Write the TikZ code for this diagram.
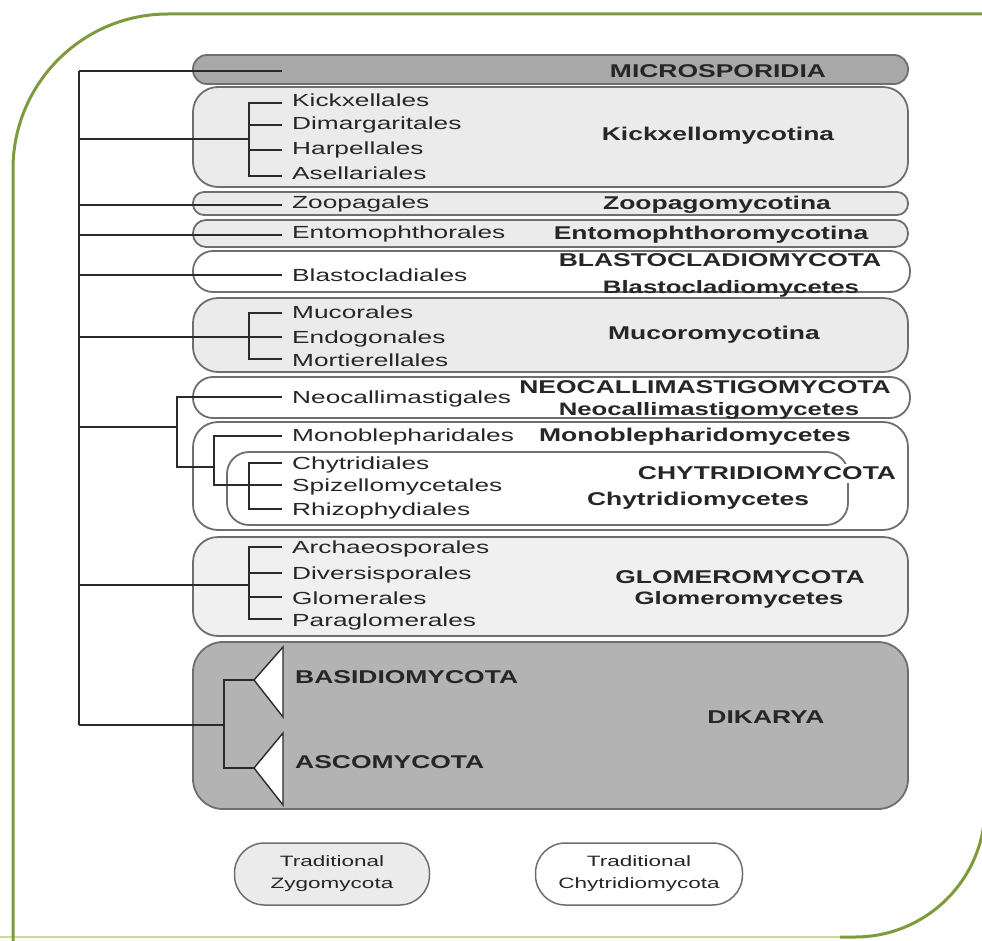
\documentclass[tikz,border=0pt]{standalone}
\usepackage{fontspec}
\setmainfont{Liberation Sans}
\newfontfamily\lblfont[FakeStretch=1.5]{Liberation Sans}
\newfontfamily\hdrfont[FakeStretch=1.43]{Liberation Sans}
\definecolor{framec}{HTML}{7D9A3C}
\definecolor{framelt}{HTML}{C9D9A0}
\definecolor{boxc}{HTML}{6E6E6E}
\definecolor{treec}{HTML}{2A2A2A}
\definecolor{txt}{HTML}{262626}
\definecolor{darkf}{HTML}{A8A8A8}
\definecolor{dikf}{HTML}{B3B3B3}
\definecolor{lightf}{HTML}{EBEBEB}
\definecolor{glomf}{HTML}{F0F0F0}
\tikzset{
  lbl/.style={anchor=west, inner xsep=0pt, inner ysep=0pt, text height=12pt, text depth=0pt,
    font=\lblfont\fontsize{17.5}{20}\selectfont, text=txt},
  hdr/.style={inner sep=0pt, text height=13pt, text depth=0pt,
    font=\hdrfont\bfseries\fontsize{18.5}{21}\selectfont, text=txt},
  subhdr/.style={hdr, font=\hdrfont\bfseries\fontsize{18}{21}\selectfont},
  tree/.style={line width=1.8pt, draw=treec},
  box/.style={draw=boxc, line width=1.8pt, inner sep=0pt},
  legend/.style={draw=boxc, line width=1.5pt, inner sep=0pt, align=center,
    font=\lblfont\fontsize{15}{22}\selectfont, text=txt},
  tri/.style={draw=treec, line width=1.4pt, fill=white},
}
\begin{document}
\begin{tikzpicture}[x=1pt,y=-1pt]
\useasboundingbox (0,0) rectangle (982,941);
% frame
\draw[framelt, line width=2pt] (0,937) -- (860,937);
\draw[framec, line width=3pt, rounded corners=155pt] (13,960) -- (13,14) -- (1000,14);
\draw[framec, line width=3pt, rounded corners=130pt] (985,650) -- (985,937) -- (840,937);

% boxes
\node[box, fill=darkf, minimum width=715pt, minimum height=29pt, rounded corners=14pt] (micro) at (550.5,69.5) {};
\node[box, fill=lightf, minimum width=715pt, minimum height=100pt, rounded corners=25pt] (kick) at (550.5,137) {};
\node[box, fill=lightf, minimum width=715pt, minimum height=23pt, rounded corners=11pt] (zoo) at (550.5,203.5) {};
\node[box, fill=lightf, minimum width=715pt, minimum height=27pt, rounded corners=13pt] (ento) at (550.5,233.5) {};
\node[box, fill=white, minimum width=717pt, minimum height=41pt, rounded corners=20pt] (blast) at (551.5,271.5) {};
\node[box, fill=lightf, minimum width=715pt, minimum height=74pt, rounded corners=25pt] (muco) at (550.5,335) {};
\node[box, fill=white, minimum width=717pt, minimum height=41pt, rounded corners=20pt] (neo) at (551.5,397.5) {};
\node[box, fill=white, minimum width=715pt, minimum height=108pt, rounded corners=25pt] (chyo) at (550.5,476) {};
\node[box, fill=white, minimum width=621pt, minimum height=73pt, rounded corners=22pt] (chyi) at (537.5,488.5) {};
\node[box, fill=glomf, minimum width=715pt, minimum height=99pt, rounded corners=25pt] (glom) at (550.5,586.5) {};
\node[box, fill=dikf, minimum width=715pt, minimum height=167pt, rounded corners=30pt] (dik) at (550.5,725.5) {};

% tree coordinates
\coordinate (rt) at (79,71);   \coordinate (rb) at (79,725);
\coordinate (r2) at (79,139);  \coordinate (r3) at (79,205);
\coordinate (r4) at (79,235);  \coordinate (r5) at (79,275);
\coordinate (r6) at (79,337);  \coordinate (r7) at (79,427);
\coordinate (r8) at (79,585);
\coordinate (mE) at (282,71);
\coordinate (kJ) at (249,139);
\coordinate (k1) at (249,103); \coordinate (k1e) at (282,103);
\coordinate (k2) at (249,125); \coordinate (k2e) at (282,125);
\coordinate (k3) at (249,150); \coordinate (k3e) at (282,150);
\coordinate (k4) at (249,176); \coordinate (k4e) at (282,176);
\coordinate (zE) at (282,205);
\coordinate (eE) at (282,235);
\coordinate (bE) at (282,275);
\coordinate (mJ) at (249,337);
\coordinate (m1) at (249,313); \coordinate (m1e) at (282,313);
\coordinate (m2e) at (282,337);
\coordinate (m3) at (249,359); \coordinate (m3e) at (282,359);
\coordinate (nJ) at (177,427);
\coordinate (n1) at (177,397); \coordinate (n1e) at (282,397);
\coordinate (n2) at (177,467); \coordinate (cJ) at (214,467);
\coordinate (c1) at (214,436); \coordinate (c1e) at (282,436);
\coordinate (c2) at (214,485); \coordinate (hJ) at (249,485);
\coordinate (h1) at (249,463); \coordinate (h1e) at (282,463);
\coordinate (h2e) at (282,485);
\coordinate (h3) at (249,509); \coordinate (h3e) at (282,509);
\coordinate (gJ) at (249,585);
\coordinate (g1) at (249,547); \coordinate (g1e) at (282,547);
\coordinate (g2) at (249,573); \coordinate (g2e) at (282,573);
\coordinate (g3) at (249,597); \coordinate (g3e) at (282,597);
\coordinate (g4) at (249,619); \coordinate (g4e) at (282,619);
\coordinate (dJ) at (224,725);
\coordinate (d1) at (224,680); \coordinate (d1e) at (254,680);
\coordinate (d2) at (224,768); \coordinate (d2e) at (254,768);

% triangles (collapsed clades)
\draw[tri] (d1e) -- (283,647) -- (283,717) -- cycle;
\draw[tri] (d2e) -- (283,733) -- (283,805) -- cycle;

% tree
\draw[tree] (rt) -- (rb);
\draw[tree] (rt) -- (mE);
\draw[tree] (r2) -- (kJ);
\draw[tree] (k1e) -- (k1) -- (k4) -- (k4e);
\draw[tree] (k2) -- (k2e);
\draw[tree] (k3) -- (k3e);
\draw[tree] (r3) -- (zE);
\draw[tree] (r4) -- (eE);
\draw[tree] (r5) -- (bE);
\draw[tree] (r6) -- (m2e);
\draw[tree] (m1e) -- (m1) -- (m3) -- (m3e);
\draw[tree] (r7) -- (nJ);
\draw[tree] (n1e) -- (n1) -- (n2) -- (cJ);
\draw[tree] (c1e) -- (c1) -- (c2) -- (hJ);
\draw[tree] (h1e) -- (h1) -- (h3) -- (h3e);
\draw[tree] (hJ) -- (h2e);
\draw[tree] (r8) -- (gJ);
\draw[tree] (g1e) -- (g1) -- (g4) -- (g4e);
\draw[tree] (g2) -- (g2e);
\draw[tree] (g3) -- (g3e);
\draw[tree] (rb) -- (dJ);
\draw[tree] (d1e) -- (d1) -- (d2) -- (d2e);

% order labels
\node[lbl] (lKick) at (292,101) {Kickxellales};
\node[lbl] (lDima) at (292,124) {Dimargaritales};
\node[lbl] (lHarp) at (292,149) {Harpellales};
\node[lbl] (lAsel) at (292,174) {Asellariales};
\node[lbl] (lZoop) at (292,203) {Zoopagales};
\node[lbl] (lEnto) at (292,233) {Entomophthorales};
\node[lbl] (lBlas) at (292,275) {Blastocladiales};
\node[lbl] (lMuco) at (292,312) {Mucorales};
\node[lbl] (lEndo) at (292,337) {Endogonales};
\node[lbl] (lMort) at (292,360) {Mortierellales};
\node[lbl] (lNeoc) at (292,397) {Neocallimastigales};
\node[lbl] (lMono) at (292,435) {Monoblepharidales};
\node[lbl] (lChyt) at (292,463) {Chytridiales};
\node[lbl] (lSpiz) at (292,485) {Spizellomycetales};
\node[lbl] (lRhiz) at (292,509) {Rhizophydiales};
\node[lbl] (lArch) at (292,547) {Archaeosporales};
\node[lbl] (lDive) at (292,573) {Diversisporales};
\node[lbl] (lGlom) at (292,598) {Glomerales};
\node[lbl] (lPara) at (292,620) {Paraglomerales};

% group labels
\node[hdr] (hMicro) at (718,71) {MICROSPORIDIA};
\node[hdr] (hKick) at (718,134) {Kickxellomycotina};
\node[hdr] (hZoo) at (717,203) {Zoopagomycotina};
\node[hdr] (hEnto) at (711,233) {Entomophthoromycotina};
\node[hdr] (hBlast) at (720,260) {BLASTOCLADIOMYCOTA};
\node[subhdr] (hBlast2) at (731,287) {Blastocladiomycetes};
\node[hdr] (hMuco) at (714,333) {Mucoromycotina};
\node[hdr] (hNeo) at (705,387) {NEOCALLIMASTIGOMYCOTA};
\node[subhdr] (hNeo2) at (709,409) {Neocallimastigomycetes};
\node[hdr] (hMono) at (695,435) {Monoblepharidomycetes};
\node[hdr, fill=white, inner xsep=1pt, inner ysep=3pt] (hChy) at (767,473) {CHYTRIDIOMYCOTA};
\node[hdr] (hChy2) at (698,499) {Chytridiomycetes};
\node[hdr] (hGlom) at (740,577) {GLOMEROMYCOTA};
\node[subhdr] (hGlom2) at (739,598) {Glomeromycetes};
\node[hdr, anchor=west] (hBasi) at (295,677) {BASIDIOMYCOTA};
\node[hdr, anchor=west] (hAsco) at (295,762) {ASCOMYCOTA};
\node[hdr] (hDik) at (766,717) {DIKARYA};

% legend
\node[legend, fill=lightf, minimum width=195pt, minimum height=62pt, rounded corners=30pt] (zygo) at (332,874) {Traditional\\Zygomycota};
\node[legend, fill=white, minimum width=207pt, minimum height=62pt, rounded corners=30pt] (chytl) at (639,874) {Traditional\\Chytridiomycota};
\end{tikzpicture}
\end{document}
